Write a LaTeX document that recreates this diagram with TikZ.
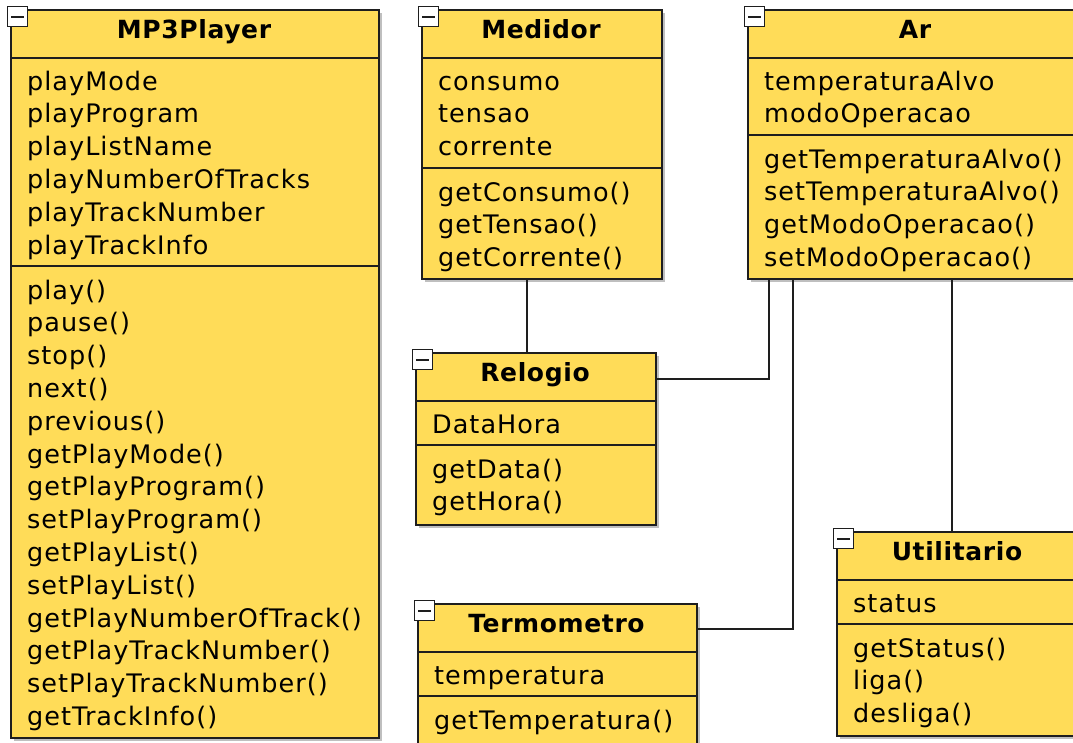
\documentclass[tikz,border=0pt]{standalone}
\usepackage{fontspec}
\setmainfont{DejaVu Sans}[LetterSpace=2.5]
\newfontfamily\memberfont{DejaVu Sans}[LetterSpace=4]
\usetikzlibrary{calc,shadows}
\definecolor{classfill}{RGB}{255,220,88}
\definecolor{edge}{RGB}{30,30,30}
\tikzset{
  classbox/.style={draw=edge, line width=1.6pt, fill=classfill, rectangle, inner sep=0pt,
    drop shadow={shadow xshift=3.5pt, shadow yshift=-3.5pt, fill=black!25, opacity=1}},
  member/.style={inner sep=0pt, anchor=base west, font=\memberfont\fontsize{25.5}{30}\selectfont},
  classname/.style={inner sep=0pt, anchor=base, font=\fontsize{25}{30}\selectfont\bfseries},
  sep/.style={draw=edge, line width=1.6pt},
  toggle/.style={draw=edge, line width=1.7pt, fill=white, minimum size=20pt, inner sep=0pt},
  link/.style={draw=edge, line width=1.6pt},
}
% \umlclass{name}{left}{top}{right}{bottom}{title}{attributes}{operations}
\newcommand\umlclass[8]{%
  \pgfmathsetmacro\bw{#4-#2}%
  \pgfmathsetmacro\bh{#5-#3}%
  \node[classbox, minimum width=\bw pt, minimum height=\bh pt, anchor=north west] (#1) at (#2,#3) {};
  \draw[sep] ([yshift=-49pt]#1.north west) -- ([yshift=-49pt]#1.north east);
  \node[toggle] (#1-toggle) at ({#2+7.5},{#3+7.5}) {};
  \draw[sep, line width=2pt] ([xshift=-6.5pt]#1-toggle.center) -- ([xshift=6.5pt]#1-toggle.center);
  \node[classname] (#1-name) at ({(#2+#4)/2},{#3+29}) {#6};
  \foreach \t [count=\i] in {#7} {
    \node[member] (#1-a\i) at ({#2+17},{#3+81+32.8*(\i-1)}) {\t};
    \xdef\nattr{\i}}
  \pgfmathsetmacro\divy{round(#3+81+32.8*(\nattr-1)+12)}
  \draw[sep] ({#2},\divy) -- ({#4},\divy);
  \foreach \t [count=\i] in {#8} {
    \node[member] (#1-o\i) at ({#2+17},{\divy+33+32.8*(\i-1)}) {\t};}
}
\begin{document}
\begin{tikzpicture}[x=1pt, y=-1pt]
\useasboundingbox (0,0) rectangle (1073,742);
\clip (0,0) rectangle (1073,742);

\umlclass{mp3}{10}{9}{378}{737}{MP3Player}
  {playMode,playProgram,playListName,playNumberOfTracks,playTrackNumber,playTrackInfo}
  {play(),pause(),stop(),next(),previous(),getPlayMode(),getPlayProgram(),setPlayProgram(),
   getPlayList(),setPlayList(),getPlayNumberOfTrack(),getPlayTrackNumber(),setPlayTrackNumber(),getTrackInfo()}

\umlclass{medidor}{421}{9}{661}{278}{Medidor}
  {consumo,tensao,corrente}
  {getConsumo(),getTensao(),getCorrente()}

\umlclass{ar}{747}{9}{1083}{278}{Ar}
  {temperaturaAlvo,modoOperacao}
  {getTemperaturaAlvo(),setTemperaturaAlvo(),getModoOperacao(),setModoOperacao()}

\umlclass{relogio}{415}{352}{655}{524}{Relogio}
  {DataHora}
  {getData(),getHora()}

\umlclass{termo}{417}{603}{696}{760}{Termometro}
  {temperatura}
  {getTemperatura()}

\umlclass{util}{836}{531}{1078}{735}{Utilitario}
  {status}
  {getStatus(),liga(),desliga()}

% associations
\draw[link] ($(medidor.south west)+(106,0)$) -- ($(relogio.north west)+(112,0)$);
\draw[link] ($(relogio.north east)+(0,27)$) -| ($(ar.south west)+(22,0)$);
\draw[link] ($(termo.north east)+(0,26)$) -| ($(ar.south west)+(46,0)$);
\draw[link] ($(util.north west)+(116,0)$) -- ($(ar.south west)+(205,0)$);
\end{tikzpicture}
\end{document}
